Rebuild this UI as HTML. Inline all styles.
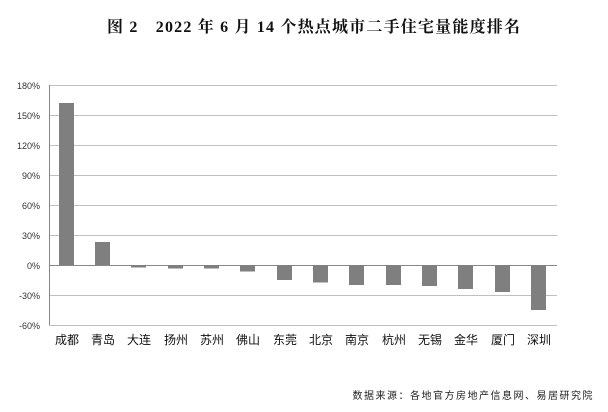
<!DOCTYPE html>
<html><head><meta charset="utf-8"><style>
body{margin:0;background:#fff;}
svg{display:block}
</style></head><body>
<svg width="608" height="412" xmlns="http://www.w3.org/2000/svg">
<rect width="608" height="412" fill="#fff"/>
<text x="107" y="32" textLength="413" lengthAdjust="spacing" font-family="'Liberation Serif','Noto Serif CJK SC',serif" font-weight="bold" font-size="16" fill="#111">图 2　2022 年 6 月 14 个热点城市二手住宅量能度排名</text>
<g stroke="#c0c0c0" stroke-width="1">
<line x1="49" x2="557" y1="85.5" y2="85.5"/>
<line x1="49" x2="557" y1="115.5" y2="115.5"/>
<line x1="49" x2="557" y1="145.5" y2="145.5"/>
<line x1="49" x2="557" y1="175.5" y2="175.5"/>
<line x1="49" x2="557" y1="205.5" y2="205.5"/>
<line x1="49" x2="557" y1="235.5" y2="235.5"/>
<line x1="49" x2="557" y1="295.5" y2="295.5"/>
<line x1="49" x2="557" y1="325.5" y2="325.5"/>
</g>
<line x1="49.5" x2="49.5" y1="85" y2="325" stroke="#888"/>
<line x1="49" x2="557" y1="265.5" y2="265.5" stroke="#888"/>
<g font-family="'Liberation Sans',sans-serif" font-size="9" fill="#333" text-anchor="end">
<text x="40" y="89">180%</text><text x="40" y="119">150%</text><text x="40" y="149">120%</text>
<text x="40" y="179">90%</text><text x="40" y="209">60%</text><text x="40" y="239">30%</text>
<text x="40" y="269">0%</text><text x="40" y="299">-30%</text><text x="40" y="329">-60%</text>
</g>
<g fill="#7f7f7f">
<rect x="59" y="103" width="15" height="162"/>
<rect x="95" y="242" width="15" height="23"/>
<rect x="131" y="265" width="15" height="2.5"/>
<rect x="168" y="265" width="15" height="3.5"/>
<rect x="204" y="265" width="15" height="3.5"/>
<rect x="240" y="265" width="15" height="6.5"/>
<rect x="277" y="265" width="15" height="15"/>
<rect x="313" y="265" width="15" height="17.5"/>
<rect x="349" y="265" width="15" height="20"/>
<rect x="386" y="265" width="15" height="20"/>
<rect x="422" y="265" width="15" height="21"/>
<rect x="458" y="265" width="15" height="24"/>
<rect x="495" y="265" width="15" height="27"/>
<rect x="531" y="265" width="15" height="45"/>
</g>
<g font-family="'Liberation Sans','Noto Sans CJK SC',sans-serif" font-size="12" fill="#111" text-anchor="middle">
<text x="67" y="344">成都</text><text x="103" y="344">青岛</text><text x="139" y="344">大连</text>
<text x="176" y="344">扬州</text><text x="212" y="344">苏州</text><text x="248" y="344">佛山</text>
<text x="285" y="344">东莞</text><text x="321" y="344">北京</text><text x="357" y="344">南京</text>
<text x="394" y="344">杭州</text><text x="430" y="344">无锡</text><text x="466" y="344">金华</text>
<text x="503" y="344">厦门</text><text x="539" y="344">深圳</text>
</g>
<text x="594" y="399" text-anchor="end" font-family="'Liberation Sans','Noto Sans CJK SC',sans-serif" font-size="10" fill="#222" letter-spacing="1.5">数据来源：各地官方房地产信息网、易居研究院</text>
</svg>
</body></html>
